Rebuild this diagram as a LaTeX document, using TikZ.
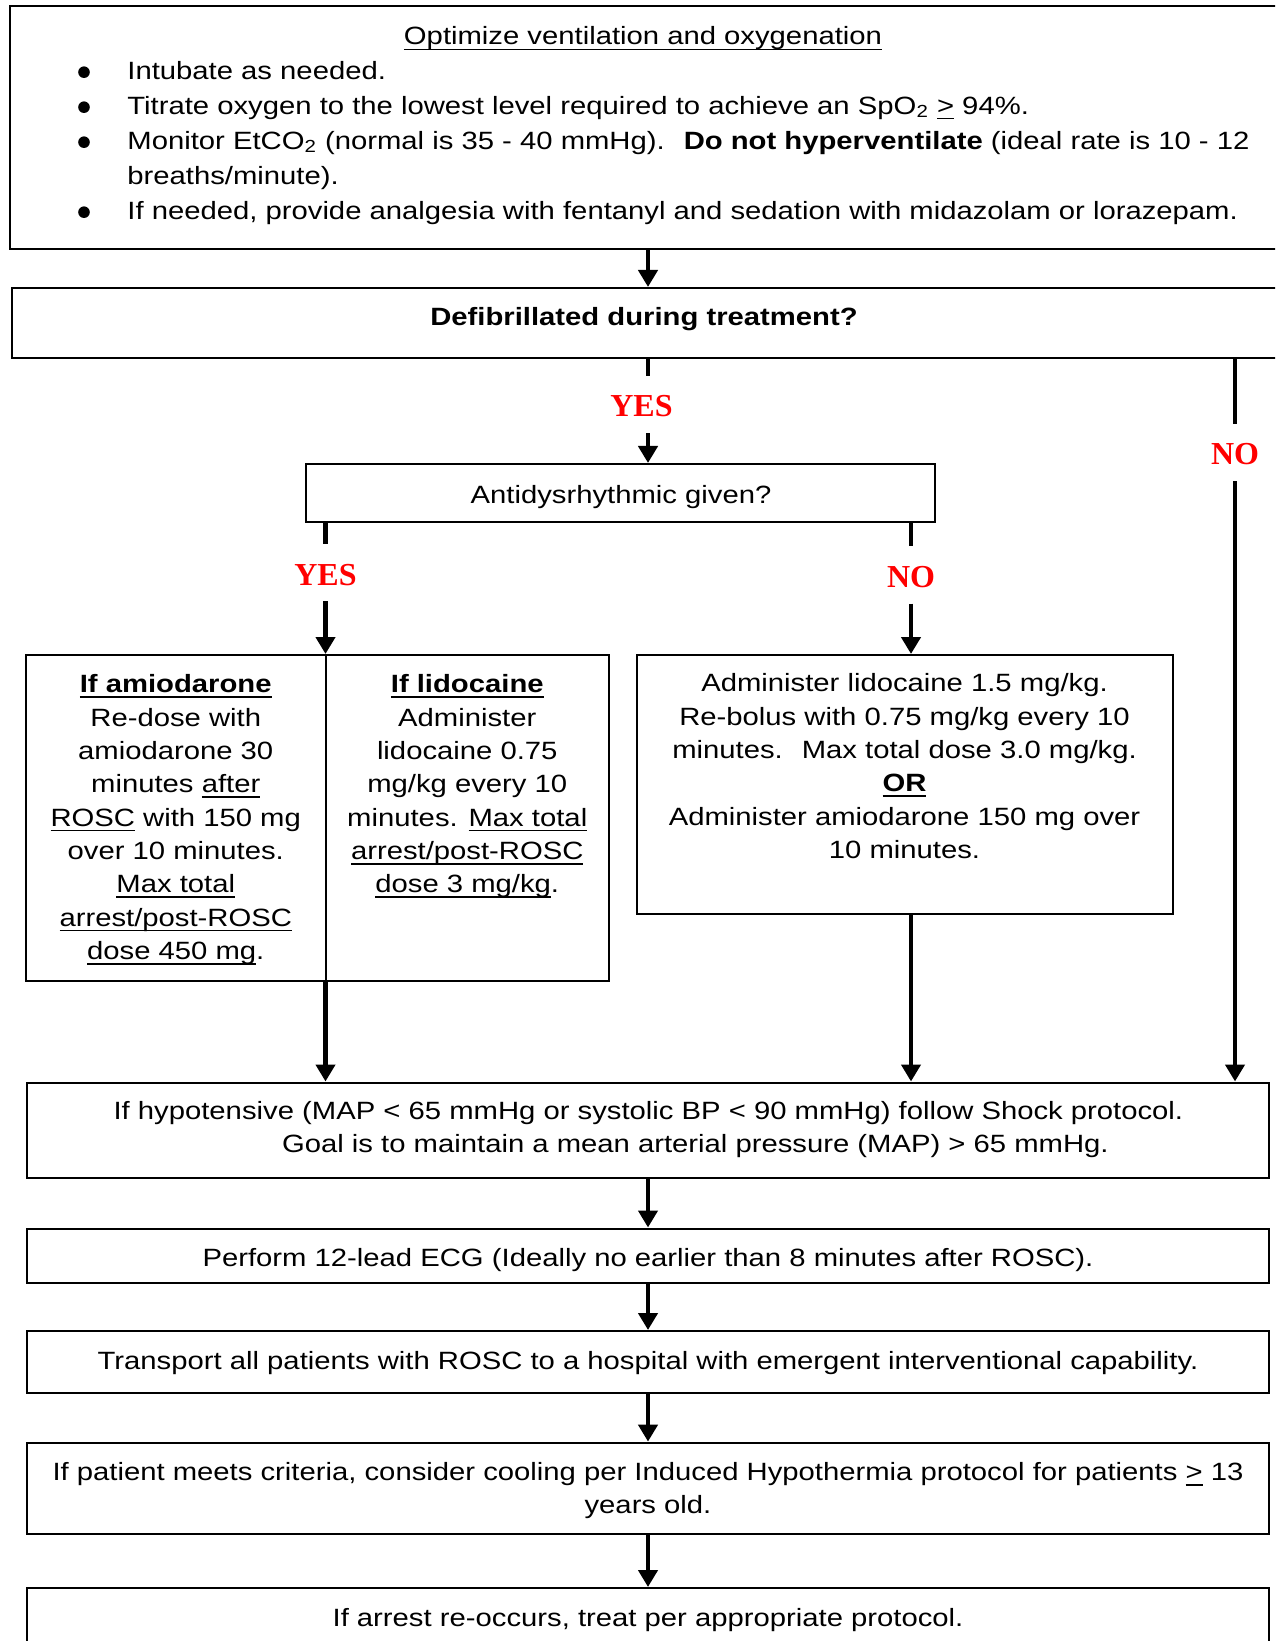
\documentclass[tikz,border=0pt]{standalone}
\usepackage{fontspec}
\setmainfont{Liberation Sans}[FakeStretch=1.17]
\newfontfamily\labfont{Liberation Serif}
\usetikzlibrary{arrows.meta}

% underline that keeps a fixed offset below the baseline
\newsavebox\ulinebox
\newcommand{\uln}[2][0.8pt]{\sbox\ulinebox{#2}\rlap{\rule[-2.6pt]{\wd\ulinebox}{#1}}\usebox\ulinebox}

\tikzset{
  box/.style={draw, line width=1pt, rectangle, inner sep=0pt},
  tx/.style={inner sep=0pt, align=center, anchor=north,
    font=\fontsize{12.5}{16.67}\selectfont,
    execute at begin node={\rule{0pt}{10pt}}},
  tx1/.style={inner sep=0pt, anchor=base, font=\fontsize{12.5}{15}\selectfont},
  lab/.style={inner sep=0pt, anchor=base, text=red,
    font=\labfont\bfseries\fontsize{16}{18}\selectfont,
    text height=20.3pt, text depth=8pt},
  bul/.style={circle, fill, inner sep=0pt, minimum size=5.8pt},
  flow/.style={line width=2.2pt},
  arr/.style={flow, -{Triangle[length=8.5pt,width=9.5pt]}},
}

\begin{document}
\begin{tikzpicture}[x=0.5pt,y=-0.5pt]
\useasboundingbox (0,0) rectangle (1275,1641);
\clip (0,0) rectangle (1275,1641);

% vertical lanes of the connectors
\coordinate (spine) at (648,0);
\coordinate (colA) at (325.5,0);
\coordinate (colB) at (911,0);
\coordinate (colC) at (1235,0);

% boxes
\node[box, minimum width=640pt, minimum height=121.5pt] (vent) at (650,127.5) {};
\node[box, minimum width=639pt, minimum height=35pt] (defib) at (651,323) {};
\node[box, minimum width=314.5pt, minimum height=29pt] (anti) at (620.5,493) {};
\node[box, minimum width=149.75pt, minimum height=162.75pt] (amio) at (175.75,817.75) {};
\node[box, minimum width=141.75pt, minimum height=162.75pt] (lido) at (467.25,817.75) {};
\node[box, minimum width=268.25pt, minimum height=129.5pt] (lidono) at (904.75,784.5) {};
\node[box, minimum width=621pt, minimum height=47.5pt] (hypo) at (647.5,1130) {};
\node[box, minimum width=621pt, minimum height=27.25pt] (ecg) at (647.5,1255.75) {};
\node[box, minimum width=621pt, minimum height=30.8pt] (trans) at (647.5,1361.8) {};
\node[box, minimum width=621pt, minimum height=45.7pt] (cool) at (647.5,1488.3) {};
\node[box, minimum width=621pt, minimum height=36pt] (rearr) at (647.5,1624) {};

% ventilation block
\node[tx1] (ventT) at (643,45) {\uln{Optimize ventilation and oxygenation}};
\foreach \y/\n in {72.2/1, 107.2/2, 142.2/3, 212.2/4}
  \node[bul] (bul\n) at (84,\y) {};
\node[tx, align=left, anchor=north west, font=\fontsize{12.5}{17.5}\selectfont] (ventL) at (127,60.5) {%
Intubate as needed.\\
Titrate oxygen to the lowest level required to achieve an SpO\textsubscript{2} \uln{>} 94\%.\\
Monitor EtCO\textsubscript{2} (normal is 35 - 40 mmHg).~ \textbf{Do not hyperventilate} (ideal rate is 10 - 12\\
breaths/minute).\\
If needed, provide analgesia with fentanyl and sedation with midazolam or lorazepam.};

% decisions
\node[tx1] (defibT) at (644,326) {\textbf{Defibrillated during treatment?}};
\node[tx1] (antiT) at (621,503) {Antidysrhythmic given?};

% branch labels
\node[lab] (yes1) at (648,416.7) {YES\kern6.5pt};
\node[lab] (no1) at (1235,465) {NO};
\node[lab] (yes2) at (325.5,585) {YES};
\node[lab] (no2) at (911,587.3) {NO};

% drug boxes
\node[tx] (amioT) at (175.75,674.3) {\textbf{\uln[1.1pt]{If amiodarone}}\\Re-dose with\\amiodarone 30\\minutes \uln{after}\\\uln{ROSC} with 150 mg\\over 10 minutes.\\\uln{Max total}\\\uln{arrest/post-ROSC}\\\uln{dose 450 mg}.};
\node[tx] (lidoT) at (467.25,674.3) {\textbf{\uln[1.1pt]{If lidocaine}}\\Administer\\lidocaine 0.75\\mg/kg every 10\\minutes. \uln{Max total}\\\uln{arrest/post-ROSC}\\\uln{dose 3 mg/kg}.};
\node[tx] (lidonoT) at (904.5,673.3) {Administer lidocaine 1.5 mg/kg.\\Re-bolus with 0.75 mg/kg every 10\\minutes.~ Max total dose 3.0 mg/kg.\\\textbf{\uln[1.1pt]{OR}}\\Administer amiodarone 150 mg over\\10 minutes.};

% post-ROSC sequence
\node[tx] (hypoT) at (648.4,1101.1) {If hypotensive (MAP < 65 mmHg or systolic BP < 90 mmHg) follow Shock protocol.\\\hspace*{47pt}Goal is to maintain a mean arterial pressure (MAP) > 65 mmHg.};
\node[tx1] (ecgT) at (648,1266.3) {Perform 12-lead ECG (Ideally no earlier than 8 minutes after ROSC).};
\node[tx1] (transT) at (648,1369.3) {Transport all patients with ROSC to a hospital with emergent interventional capability.};
\node[tx, font=\fontsize{12.5}{16.2}\selectfont] (coolT) at (648,1462.2) {If patient meets criteria, consider cooling per Induced Hypothermia protocol for patients \uln{>} 13\\years old.};
\node[tx1] (rearrT) at (648,1626.7) {If arrest re-occurs, treat per appropriate protocol.};

% connectors
\draw[arr] (vent.south -| spine) -- (defib.north -| spine);
\draw[flow] (defib.south -| spine) -- (yes1.north -| spine);
\draw[arr] (yes1.south -| spine) -- (anti.north -| spine);
\draw[flow] (defib.south -| colC) -- (no1.north -| colC);
\draw[arr] (no1.south -| colC) -- (hypo.north -| colC);
\draw[flow] (anti.south -| colA) -- (yes2.north -| colA);
\draw[arr] (yes2.south -| colA) -- (amio.north -| colA);
\draw[flow] (anti.south -| colB) -- (no2.north -| colB);
\draw[arr] (no2.south -| colB) -- (lidono.north -| colB);
\draw[arr] (amio.south -| colA) -- (hypo.north -| colA);
\draw[arr] (lidono.south -| colB) -- (hypo.north -| colB);
\draw[arr] (hypo.south -| spine) -- (ecg.north -| spine);
\draw[arr] (ecg.south -| spine) -- (trans.north -| spine);
\draw[arr] (trans.south -| spine) -- (cool.north -| spine);
\draw[arr] (cool.south -| spine) -- (rearr.north -| spine);
\end{tikzpicture}
\end{document}
